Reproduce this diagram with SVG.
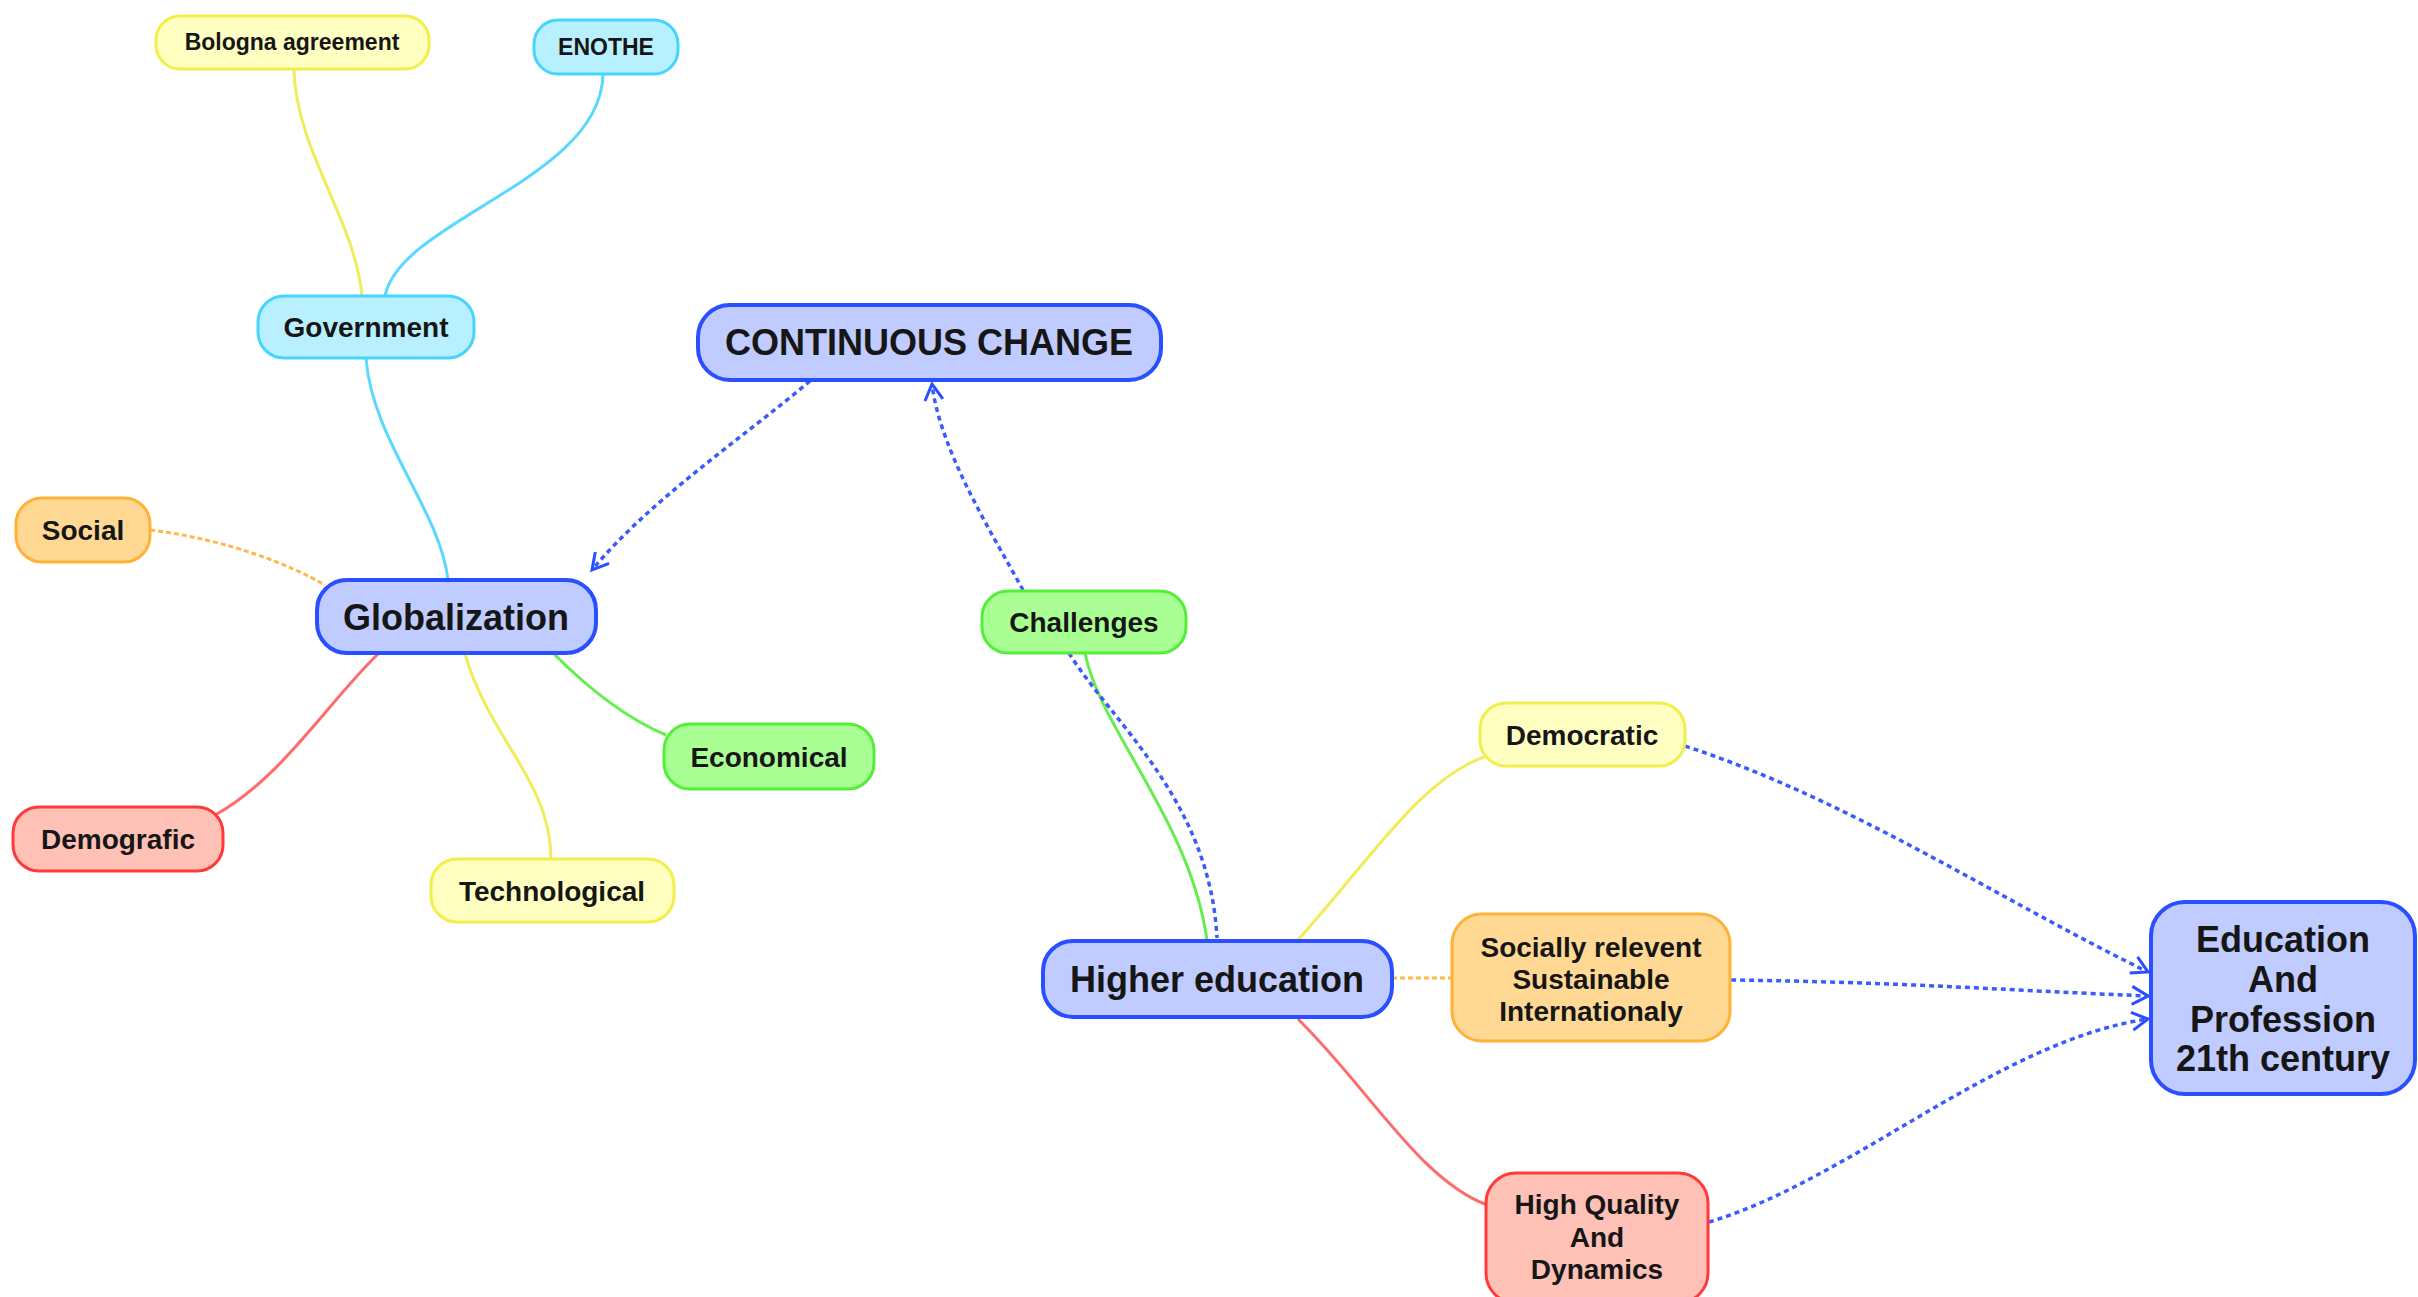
<svg xmlns="http://www.w3.org/2000/svg" width="2418" height="1297" viewBox="0 0 2418 1297">
<defs>
<style>
text{font-family:"Liberation Sans",Arial,sans-serif;font-weight:bold;fill:#161616;text-anchor:middle;dominant-baseline:central}
.s{font-size:23px}.m{font-size:28px}.l{font-size:36px}
.blue rect{fill:#c0cbff;stroke:#2a4fff;stroke-width:4}
.cyan rect{fill:#b9f0ff;stroke:#45d6ff;stroke-width:3}
.yel rect{fill:#ffffc2;stroke:#f2ee4a;stroke-width:3}
.ora rect{fill:#ffd894;stroke:#ffb236;stroke-width:3}
.grn rect{fill:#a9ff94;stroke:#55ee38;stroke-width:3}
.red rect{fill:#ffc0b6;stroke:#ff3a3a;stroke-width:3}
.c{fill:none;stroke-width:3}
.cy{stroke:#5ad8ff}.yl{stroke:#f0ec5a}.or{stroke:#ffb84a;stroke-dasharray:5 3}.gr{stroke:#66ee50}.rd{stroke:#ff6a6a}
.bl{fill:none;stroke:#3a5cff;stroke-width:3.5;stroke-dasharray:5 4}
</style>
<marker id="arr" markerUnits="userSpaceOnUse" markerWidth="24" markerHeight="24" viewBox="0 0 24 24" refX="21" refY="12" orient="auto">
<path d="M5,3 L21,12 L5,21" fill="none" stroke="#2a4fff" stroke-width="3"/>
</marker>
</defs>
<rect width="2418" height="1297" fill="#ffffff"/>
<g id="connectors">
<path class="c yl" d="M294 70 C296 150 355 220 362 296"/>
<path class="c cy" d="M603 75 C600 180 400 220 385 296"/>
<path class="c cy" d="M366 358 C372 440 440 510 448 580"/>
<path class="c or" d="M150 530 C230 540 290 565 325 585"/>
<path class="c rd" d="M378 654 C330 700 280 780 215 815"/>
<path class="c yl" d="M465 654 C490 740 550 780 551 858"/>
<path class="c gr" d="M554 654 C590 690 630 720 666 735"/>
<path class="bl" d="M810 381 C740 440 650 500 592 570" marker-end="url(#arr)"/>
<path class="bl" d="M1023 590 C990 530 940 450 932 384" marker-end="url(#arr)"/>
<path class="c gr" d="M1085 653 C1100 730 1190 820 1207 940"/>
<path class="bl" d="M1069 653 C1110 720 1210 800 1217 938"/>
<path class="c yl" d="M1298 940 C1370 860 1420 780 1484 757"/>
<path class="c or" d="M1392 978 L1453 978"/>
<path class="c rd" d="M1298 1019 C1370 1090 1420 1180 1487 1205"/>
<path class="bl" d="M1685 746 C1850 800 2000 900 2148 972" marker-end="url(#arr)"/>
<path class="bl" d="M1731 980 C1900 982 2000 990 2148 996" marker-end="url(#arr)"/>
<path class="bl" d="M1709 1222 C1850 1180 2000 1040 2148 1019" marker-end="url(#arr)"/>
</g>
<g id="bologna" class="yel"><rect x="156" y="16" width="273" height="53" rx="24"/><text class="s" x="292" y="42">Bologna agreement</text></g>
<g id="enothe" class="cyan"><rect x="534" y="20" width="144" height="54" rx="24"/><text class="s" x="606" y="47">ENOTHE</text></g>
<g id="government" class="cyan"><rect x="258" y="296" width="216" height="62" rx="26"/><text class="m" x="366" y="327">Government</text></g>
<g id="continuous-change" class="blue"><rect x="698" y="305" width="463" height="75" rx="32"/><text class="l" x="929" y="342">CONTINUOUS CHANGE</text></g>
<g id="globalization" class="blue"><rect x="317" y="580" width="279" height="73" rx="30"/><text class="l" x="456" y="617">Globalization</text></g>
<g id="social" class="ora"><rect x="16" y="498" width="134" height="64" rx="26"/><text class="m" x="83" y="530">Social</text></g>
<g id="economical" class="grn"><rect x="664" y="724" width="210" height="65" rx="26"/><text class="m" x="769" y="757">Economical</text></g>
<g id="demografic" class="red"><rect x="13" y="807" width="210" height="64" rx="26"/><text class="m" x="118" y="839">Demografic</text></g>
<g id="technological" class="yel"><rect x="431" y="859" width="243" height="63" rx="26"/><text class="m" x="552" y="891">Technological</text></g>
<g id="challenges" class="grn"><rect x="982" y="591" width="204" height="62" rx="26"/><text class="m" x="1084" y="622">Challenges</text></g>
<g id="higher-education" class="blue"><rect x="1043" y="941" width="349" height="76" rx="30"/><text class="l" x="1217" y="979">Higher education</text></g>
<g id="democratic" class="yel"><rect x="1480" y="703" width="205" height="63" rx="26"/><text class="m" x="1582" y="735">Democratic</text></g>
<g id="socially" class="ora"><rect x="1452" y="914" width="278" height="127" rx="30"/><text class="m" x="1591" y="947">Socially relevent</text><text class="m" x="1591" y="979">Sustainable</text><text class="m" x="1591" y="1011">Internationaly</text></g>
<g id="high-quality" class="red"><rect x="1486" y="1173" width="222" height="130" rx="30"/><text class="m" x="1597" y="1204">High Quality</text><text class="m" x="1597" y="1237">And</text><text class="m" x="1597" y="1269">Dynamics</text></g>
<g id="education-profession" class="blue"><rect x="2151" y="902" width="264" height="192" rx="34"/><text class="l" x="2283" y="939">Education</text><text class="l" x="2283" y="979">And</text><text class="l" x="2283" y="1019">Profession</text><text class="l" x="2283" y="1058">21th century</text></g>
</svg>
